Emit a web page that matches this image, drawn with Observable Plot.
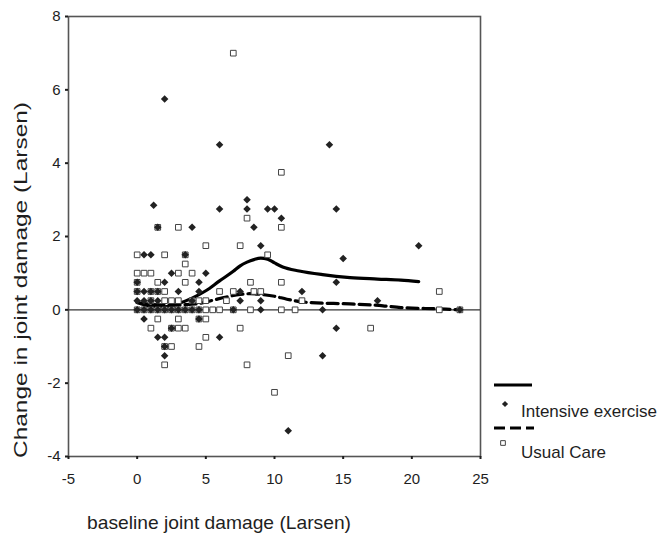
<!DOCTYPE html>
<html>
<head>
<meta charset="utf-8">
<script src="https://cdn.jsdelivr.net/npm/d3@7"></script>
<script src="https://cdn.jsdelivr.net/npm/@observablehq/plot@0.6"></script>
<style>
  html, body { margin: 0; padding: 0; background: #fff; }
  #wrap { position: relative; width: 663px; height: 540px; font-family: "Liberation Sans", Arial, sans-serif; }
  #legend { position: absolute; left: 0; top: 0; pointer-events: none; }
</style>
</head>
<body>
<div id="wrap"></div>
<script>
// ---- data ----
const xTicks = [-5, 0, 5, 10, 15, 20, 25];
const yTicks = [-4, -2, 0, 2, 4, 6, 8];
const xTitle = "baseline joint damage (Larsen)";
const yTitle = "Change in joint damage (Larsen)";
const seriesNames = ["Intensive exercise", "Usual Care"];

const intensiveX = [2, 6, 14, 8, 1.2, 6, 8, 9.5, 10, 14.5, 10.5, 1.5, 4, 8.5, 9, 20.5, 0.5, 1, 3.5, 15, 2.5, 5,
  0, 2, 4.5, 14.5, 0, 0.5, 1, 1.5, 3, 4.5, 7.5, 12, 0, 0.5, 1, 1.5, 4, 7.5, 9, 17.5,
  0, 0.5, 1, 1.5, 2, 2.5, 3, 3.5, 4, 4.5, 7, 9, 13.5, 23.5, 0.5, 4.5, 2.5, 14.5, 1.5, 2, 6, 2, 2, 13.5, 11];
const intensiveY = [5.75, 4.5, 4.5, 3, 2.85, 2.75, 2.75, 2.75, 2.75, 2.75, 2.5, 2.25, 2.25, 2.25, 1.75, 1.75, 1.5, 1.5, 1.5, 1.4, 1, 1,
  0.75, 0.75, 0.75, 0.75, 0.5, 0.5, 0.5, 0.5, 0.5, 0.5, 0.5, 0.5, 0.25, 0.25, 0.25, 0.25, 0.25, 0.25, 0.25, 0.25,
  0, 0, 0, 0, 0, 0, 0, 0, 0, 0, 0, 0, 0, 0, -0.25, -0.25, -0.5, -0.5, -0.75, -0.75, -0.75, -1, -1.25, -1.25, -3.3];

const usualX = [7, 10.5, 8, 1.5, 3, 10.5, 5, 7.5, 0, 2, 3.5, 9.5, 3.5, 0, 0.5, 1, 3, 4,
  0, 1.5, 3.5, 8.25, 10.5, 0, 1, 1.5, 2, 6, 7, 8.5, 9, 22, 1, 2, 2.5, 3, 4, 4.5, 5, 6.5, 12,
  0, 0.5, 1, 1.5, 2, 2.5, 3, 3.5, 4, 4.5, 5, 5.5, 6, 7, 8.25, 10.5, 11.5, 22, 23.5,
  1.5, 3, 4.5, 5, 1, 2.5, 3, 3.5, 7.5, 17, 5, 2, 2.5, 4.5, 11, 2, 8, 10];
const usualY = [7, 3.75, 2.5, 2.25, 2.25, 2.25, 1.75, 1.75, 1.5, 1.5, 1.5, 1.5, 1.25, 1, 1, 1, 1, 1,
  0.75, 0.75, 0.75, 0.75, 0.75, 0.5, 0.5, 0.5, 0.5, 0.5, 0.5, 0.5, 0.5, 0.5, 0.25, 0.25, 0.25, 0.25, 0.25, 0.25, 0.25, 0.25, 0.25,
  0, 0, 0, 0, 0, 0, 0, 0, 0, 0, 0, 0, 0, 0, 0, 0, 0, 0, 0,
  -0.25, -0.25, -0.25, -0.25, -0.5, -0.5, -0.5, -0.5, -0.5, -0.5, -0.75, -1, -1, -1, -1.25, -1.5, -1.5, -2.25];

// smoothed (loess-like) fit lines
const intensiveFitX = [0, 1, 2, 3, 4, 5, 6, 7, 7.5, 8, 8.5, 9, 9.5, 10, 10.6, 11.8, 13.5, 15.5, 17.5, 19.2, 20.5];
const intensiveFitY = [0.2, 0.1, 0.08, 0.17, 0.32, 0.52, 0.79, 1.05, 1.2, 1.3, 1.37, 1.41, 1.38, 1.28, 1.17, 1.06, 0.96, 0.88, 0.84, 0.81, 0.77];
const usualFitX = [0, 1, 2.3, 3.5, 4.5, 5.5, 6.5, 7.5, 8.2, 9, 10, 10.9, 12.5, 15.5, 17.9, 19.2, 22.5, 23.5];
const usualFitY = [0.2, 0.15, 0.13, 0.14, 0.17, 0.26, 0.35, 0.42, 0.44, 0.42, 0.37, 0.29, 0.2, 0.16, 0.11, 0.06, 0.02, 0];

// ---- build tables ----
const intensive = intensiveX.map((x, i) => ({x, y: intensiveY[i]}));
const usual = usualX.map((x, i) => ({x, y: usualY[i]}));
const intensiveFit = intensiveFitX.map((x, i) => ({x, y: intensiveFitY[i]}));
const usualFit = usualFitX.map((x, i) => ({x, y: usualFitY[i]}));

const ink = "#1e1e1e";
const font = "'Liberation Sans', Arial, sans-serif";
const fmt = d => `${d}`;

const chart = Plot.plot({
  width: 663,
  height: 540,
  marginLeft: 68,
  marginRight: 183,
  marginTop: 16,
  marginBottom: 84,
  x: {domain: [-5, 25]},
  y: {domain: [-4, 8]},
  style: {fontFamily: font, background: "#fff", color: ink},
  marks: [
    Plot.frame({stroke: "#555", strokeWidth: 1.6}),
    Plot.ruleY([0], {stroke: "#333", strokeWidth: 1.1}),
    Plot.axisX(xTicks, {tickSize: 3, tickPadding: 14, fontSize: 15, label: null, tickFormat: fmt, stroke: ink, strokeWidth: 2}),
    Plot.axisY(yTicks, {tickSize: 3, tickPadding: 5, fontSize: 15, label: null, tickFormat: fmt, stroke: ink, strokeWidth: 2}),
    Plot.line(usualFit, {x: "x", y: "y", stroke: "#000", strokeWidth: 3.2, strokeDasharray: "11,5", curve: "monotone-x"}),
    Plot.line(intensiveFit, {x: "x", y: "y", stroke: "#000", strokeWidth: 3.2, curve: "monotone-x"}),
    Plot.dot(usual, {x: "x", y: "y", symbol: "square", r: 3.2, fill: "#fff", stroke: "#444", strokeWidth: 1}),
    Plot.dot(intensive, {x: "x", y: "y", symbol: d3.symbolDiamond2, r: 3.4, fill: "#222", stroke: "none"})
  ]
});

const wrap = document.getElementById("wrap");
wrap.appendChild(chart);

// axis titles (real text, positioned like the reference)
const svg = d3.select(chart);
svg.append("text")
  .attr("x", 87).attr("y", 529)
  .attr("text-anchor", "start")
  .attr("font-size", 19).attr("fill", ink).attr("font-family", font)
  .attr("textLength", 264).attr("lengthAdjust", "spacingAndGlyphs")
  .text(xTitle);
svg.append("text")
  .attr("transform", "translate(27,458) rotate(-90)")
  .attr("text-anchor", "start")
  .attr("font-size", 19).attr("fill", ink).attr("font-family", font)
  .attr("textLength", 356).attr("lengthAdjust", "spacingAndGlyphs")
  .text(yTitle);

// ---- legend (right of the plot) ----
const legend = d3.create("svg")
  .attr("id", "legend")
  .attr("width", 663).attr("height", 540)
  .style("font-family", font);
legend.append("line").attr("x1", 494).attr("x2", 532).attr("y1", 385).attr("y2", 385)
  .attr("stroke", "#000").attr("stroke-width", 3.2);
legend.append("path").attr("d", d3.symbol(d3.symbolDiamond2, 24)()).attr("transform", "translate(505,404)").attr("fill", "#222");
legend.append("text").attr("x", 521).attr("y", 417).attr("font-size", 17).attr("fill", ink).text(seriesNames[0]);
legend.append("line").attr("x1", 494).attr("x2", 534).attr("y1", 428).attr("y2", 428)
  .attr("stroke", "#000").attr("stroke-width", 3.2).attr("stroke-dasharray", "11,5");
legend.append("path").attr("d", d3.symbol(d3.symbolSquare, 22)()).attr("transform", "translate(503,443)")
  .attr("fill", "#fff").attr("stroke", "#444");
legend.append("text").attr("x", 521).attr("y", 458).attr("font-size", 17).attr("fill", ink).text(seriesNames[1]);
wrap.appendChild(legend.node());
</script>
</body>
</html>
